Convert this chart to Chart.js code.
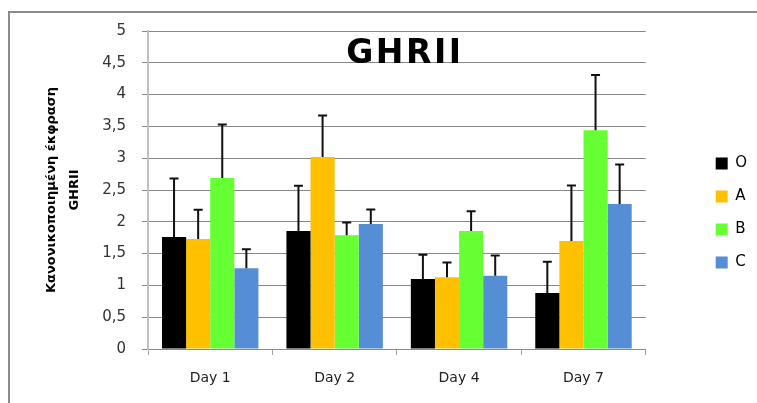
<!DOCTYPE html>
<html>
<head>
<meta charset="utf-8">
<script src="https://cdn.jsdelivr.net/npm/chart.js@4.4.0/dist/chart.umd.min.js"></script>
<style>
  html, body { margin: 0; padding: 0; background: #fff; }
  #wrap { position: relative; width: 757px; height: 403px; overflow: hidden; }
  #frame { position: absolute; left: 8px; top: 11px; width: 800px; height: 450px; border: 2px solid #8c8c8c; box-sizing: border-box; }
  #c { position: absolute; left: 0; top: 0; }
</style>
</head>
<body>
<div id="wrap">
  <div id="frame"></div>
  <canvas id="c" width="757" height="403"></canvas>
</div>
<script>
const categories = ['Day 1', 'Day 2', 'Day 4', 'Day 7'];
const seriesNames = ['O', 'A', 'B', 'C'];
const valuesO = [1.76, 1.855, 1.10, 0.88];
const valuesA = [1.73, 3.02, 1.13, 1.70];
const valuesB = [2.69, 1.79, 1.855, 3.44];
const valuesC = [1.27, 1.965, 1.15, 2.28];
const errorsO = [0.92, 0.71, 0.38, 0.49];
const errorsA = [0.46, 0.65, 0.23, 0.87];
const errorsB = [0.84, 0.20, 0.31, 0.87];
const errorsC = [0.30, 0.23, 0.32, 0.62];
const yTickLabels = ['0', '0,5', '1', '1,5', '2', '2,5', '3', '3,5', '4', '4,5', '5'];
const chartTitle = 'GHRII';
const yAxisTitle = ['Κανονικοποιημένη έκφραση', 'GHRII'];

const colors = ['#000000', '#FFC000', '#66FF33', '#558ED5'];
const allValues = [valuesO, valuesA, valuesB, valuesC];
const allErrors = [errorsO, errorsA, errorsB, errorsC];

const errorBarPlugin = {
  id: 'errorBars',
  afterDatasetsDraw(chart) {
    const ctx = chart.ctx;
    const yScale = chart.scales.y;
    ctx.save();
    ctx.strokeStyle = '#111';
    ctx.lineWidth = 2;
    chart.data.datasets.forEach((ds, di) => {
      const meta = chart.getDatasetMeta(di);
      meta.data.forEach((bar, i) => {
        const v = ds.data[i];
        const top = yScale.getPixelForValue(v + ds.errors[i]);
        const base = yScale.getPixelForValue(v);
        ctx.beginPath();
        ctx.moveTo(bar.x, base);
        ctx.lineTo(bar.x, top);
        ctx.moveTo(bar.x - 4.5, top);
        ctx.lineTo(bar.x + 4.5, top);
        ctx.stroke();
      });
    });
    ctx.restore();
  }
};

const titlePlugin = {
  id: 'innerTitle',
  afterDraw(chart) {
    const ctx = chart.ctx;
    const a = chart.chartArea;
    ctx.save();
    ctx.font = 'bold 33px "Comic Sans MS", "DejaVu Sans", sans-serif';
    try { ctx.letterSpacing = '2.5px'; } catch (e) {}
    ctx.fillStyle = '#000';
    ctx.textAlign = 'center';
    ctx.textBaseline = 'middle';
    ctx.fillText(chartTitle, (a.left + a.right) / 2 + 8, a.top + 23);
    ctx.restore();
  }
};

new Chart(document.getElementById('c'), {
  type: 'bar',
  data: {
    labels: categories,
    datasets: seriesNames.map((n, k) => ({
      label: n,
      data: allValues[k],
      errors: allErrors[k],
      backgroundColor: colors[k],
      borderWidth: 0,
      categoryPercentage: 0.775,
      barPercentage: 1.0
    }))
  },
  options: {
    responsive: false,
    animation: false,
    devicePixelRatio: 1,
    layout: { padding: { top: 31, right: 0, bottom: 8, left: 0 } },
    plugins: {
      legend: {
        position: 'right',
        labels: {
          boxWidth: 12,
          boxHeight: 12,
          padding: 18,
          color: '#000',
          font: { family: '"DejaVu Sans", sans-serif', size: 15 }
        }
      },
      tooltip: { enabled: false },
      title: { display: false }
    },
    scales: {
      x: {
        grid: { display: true, offset: true, drawOnChartArea: false, drawTicks: true, tickLength: 6, color: '#a0a0a0' },
        border: { display: true, color: '#8c8c8c', width: 1 },
        ticks: { color: '#222', padding: 15, font: { family: '"DejaVu Sans", sans-serif', size: 14 } },
        afterFit(s) { s.height = 46; }
      },
      y: {
        min: 0, max: 5,
        ticks: {
          stepSize: 0.5,
          color: '#333',
          padding: 16,
          font: { family: '"DejaVu Sans", sans-serif', size: 15 },
          callback: (v, i) => yTickLabels[i]
        },
        grid: { color: '#888', lineWidth: 1, tickLength: 6 },
        border: { display: true, color: '#c0c0c0', width: 2 },
        title: {
          display: true,
          text: yAxisTitle,
          color: '#000',
          padding: { top: 41, bottom: 0 },
          font: { family: '"DejaVu Sans", sans-serif', size: 13, weight: 'bold', lineHeight: 1.7 }
        },
        afterFit(s) { s.width = 148; }
      },
      yR: {
        position: 'right',
        display: true,
        grid: { display: false },
        ticks: { display: false },
        border: { display: false },
        afterFit(s) { s.width = 52; }
      }
    }
  },
  plugins: [errorBarPlugin, titlePlugin]
});
</script>
</body>
</html>
